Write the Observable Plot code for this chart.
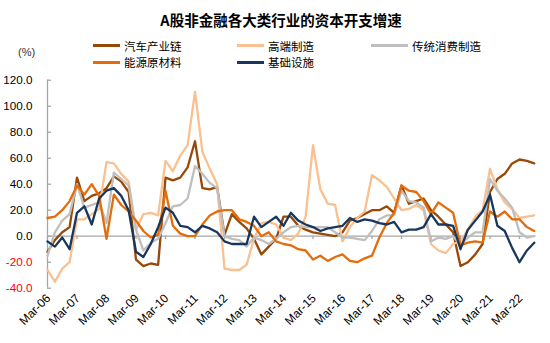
<!DOCTYPE html>
<html>
<head>
<meta charset="utf-8">
<script src="https://cdn.jsdelivr.net/npm/d3@7"></script>
<script src="https://cdn.jsdelivr.net/npm/@observablehq/plot@0.6"></script>
<style>
  body { margin: 0; background: #fff; }
  #wrap { position: relative; width: 550px; height: 343px; overflow: hidden; font-family: "Liberation Sans", Arial, sans-serif; }
  #title { position: absolute; left: 0; width: 562px; top: 11px; text-align: center; font: bold 14.5px "Noto Sans CJK SC", sans-serif; color: #000; line-height: 18px; }
  .unit { position: absolute; left: 18px; top: 46px; font: 11px "Liberation Sans", Arial, sans-serif; color: #333; line-height: 13px; }
  .leg { position: absolute; display: flex; align-items: center; height: 16px; font: 11.5px "Noto Sans CJK SC", sans-serif; color: #000; line-height: 16px; white-space: nowrap; }
  .sw { display: inline-block; height: 3px; margin-right: 4px; }
  #chart { position: absolute; left: 0; top: 0; }
</style>
</head>
<body>
<div id="wrap">
  <div id="chart"></div>
  <div id="title">A股非金融各大类行业的资本开支增速</div>
  <div class="unit">(%)</div>
</div>
<script>
// Quarterly data, Mar-06 .. Sep-22 (67 quarters)
const seriesNames = ["汽车产业链", "高端制造", "传统消费制造", "能源原材料", "基础设施"];
const seriesColors = ["#984807", "#FAC090", "#BFBFBF", "#E46C0A", "#17375E"];

const autoChain = [-12,-3,3,7,45,27,31,33,37,46,42,34,-18,-23,-21,-22,45,43,45,53,73,37,36,38,1,17,11,6,-2,-14,-8,-2,15,15,8,5,3,2,1,0,3,12,14,17,20,20,23,18,39,25,27,29,20,15,9,3,-23,-20,-14,-6,34,44,48,56,59,58,56];
const highEnd = [-26,-35,-25,-20,13,13,17,21,57,56,48,42,5,17,18,16,58,50,62,70,111,65,52,40,-25,-26,-26,-22,-2,10,11,9,-1,-3,2,15,70,36,25,24,-4,7,14,19,47,43,38,29,20,21,24,20,-6,-11,-13,-6,-4,5,15,20,52,36,26,21,14,15,16];
const consumer = [-15,3,12,17,40,22,24,26,10,49,44,39,5,-11,-5,-2,10,23,24,29,54,48,41,37,0,-2,-3,-8,-1,-3,-6,-2,3,7,8,7,7,7,7,3,-1,-1,-2,-3,4,13,16,16,35,27,26,22,-4,-1,-2,0,-7,-1,3,3,44,35,29,22,3,-1,0];
const energy = [14,15,20,27,39,32,40,31,-2,32,24,19,12,4,-1,1,35,8,2,0,0,9,16,19,20,20,13,11,8,0,3,-4,-6,-7,-10,-11,-18,-15,-19,-16,-14,-19,-20,-17,-15,-1,10,18,39,35,34,27,17,26,22,18,-7,-5,-4,-5,19,15,19,13,13,7,4];
const infra = [-4,-8,-1,-10,18,23,9,29,35,37,31,20,-12,-16,-6,7,22,18,8,7,3,8,6,3,-4,-6,-6,-6,15,7,11,15,8,18,12,9,7,4,6,7,8,14,11,13,12,10,9,11,3,5,5,7,17,9,9,8,-10,5,12,19,32,8,4,-9,-20,-11,-5];

const xLabels = ["Mar-06","Mar-07","Mar-08","Mar-09","Mar-10","Mar-11","Mar-12","Mar-13","Mar-14","Mar-15","Mar-16","Mar-17","Mar-18","Mar-19","Mar-20","Mar-21","Mar-22"];
const yTicks = [-40, -20, 0, 20, 40, 60, 80, 100, 120];

const allSeries = [autoChain, highEnd, consumer, energy, infra];
const nQ = autoChain.length;

const axisGray = "#A6A6A6";

const lineMarks = allSeries.map((s, k) =>
  Plot.line(s, {x: (d, i) => i, y: d => d, stroke: seriesColors[k], strokeWidth: 2.3, strokeLinejoin: "round"})
);

const plot = Plot.plot({
  width: 550,
  height: 343,
  marginTop: 79.7,
  marginBottom: 55.3,
  marginLeft: 47,
  marginRight: 16.25,
  x: {domain: [0, nQ - 1], axis: null},
  y: {domain: [-40, 120], axis: null},
  color: {type: "identity"},
  style: {fontFamily: "Liberation Sans, Arial, sans-serif", fontSize: "11px", background: "transparent", overflow: "visible"},
  marks: [
    Plot.ruleY([0], {x1: 0, x2: nQ - 1 + 0.2, stroke: axisGray, strokeWidth: 1.3}),
    Plot.ruleX(xLabels.map((d, i) => i * 4), {x: d => d, y1: 0, y2: -2.6, stroke: axisGray, strokeWidth: 1.3}),
    Plot.ruleX([0], {y1: -40, y2: 120, stroke: axisGray, strokeWidth: 1.3}),
    Plot.ruleY(yTicks, {y: d => d, x1: 0, x2: 0.55, stroke: axisGray, strokeWidth: 1.3}),
    ...lineMarks,
    Plot.text(yTicks, {x: 0, y: d => d, dx: -15, textAnchor: "end", text: d => d.toFixed(1), fill: d => d < 0 ? "#FF0000" : "#000000", fontSize: 11.7}),
    Plot.text(xLabels, {x: (d, i) => i * 4, y: -40, dx: 1, dy: 8, rotate: -45, textAnchor: "end", text: d => d, fill: "#000000", fontSize: 12})
  ]
});
document.getElementById("chart").appendChild(plot);

// Legend
const colX = [93, 237, 371];
const swW = [27, 27, 37];
const rowY = [37.6, 54.3];
const wrap = document.getElementById("wrap");
seriesNames.forEach((name, i) => {
  const col = i % 3, row = Math.floor(i / 3);
  const el = document.createElement("div");
  el.className = "leg";
  el.style.left = colX[col] + "px";
  el.style.top = rowY[row] + "px";
  const sw = document.createElement("span");
  sw.className = "sw";
  sw.style.width = swW[col] + "px";
  sw.style.background = seriesColors[i];
  el.appendChild(sw);
  el.appendChild(document.createTextNode(name));
  wrap.appendChild(el);
});
</script>
</body>
</html>
